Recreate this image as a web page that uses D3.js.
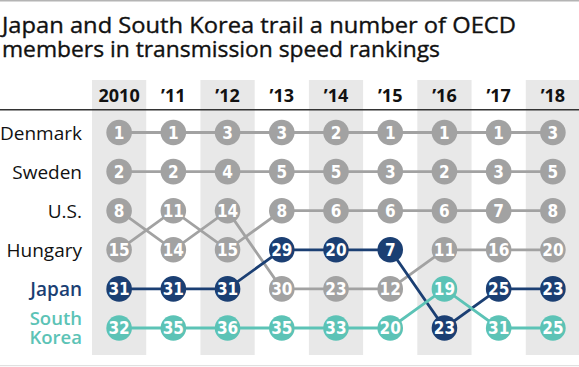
<!DOCTYPE html>
<html>
<head>
<meta charset="utf-8">
<script src="https://cdn.jsdelivr.net/npm/d3@7"></script>
<style>
  body { margin: 0; background: #fff; }
  svg { display: block; }
</style>
</head>
<body>
<div id="chart"></div>
<script>
// ---- data (ranks as the lines are drawn in the source chart) ----
var years = ["2010", "2011", "2012", "2013", "2014", "2015", "2016", "2017", "2018"];
var yearLabels = ["2010", "\u201911", "\u201912", "\u201913", "\u201914", "\u201915", "\u201916", "\u201917", "\u201918"];
var countries = ["Denmark", "Sweden", "U.S.", "Hungary", "Japan", "South Korea"];
var denmark = [1, 1, 3, 3, 2, 1, 1, 1, 3];
var sweden = [2, 2, 4, 5, 5, 3, 2, 3, 5];
var us = [8, 14, 14, 30, 23, 12, 11, 16, 20];
var hungary = [15, 11, 15, 8, 6, 6, 6, 7, 8];
var japan = [31, 31, 31, 29, 20, 7, 23, 25, 23];
var korea = [32, 35, 36, 35, 33, 20, 19, 31, 25];

var ranks = [denmark, sweden, us, hungary, japan, korea];
var colors = ["#a2a2a2", "#a2a2a2", "#a2a2a2", "#a2a2a2", "#1b3f73", "#5cc3b6"];

// slot = position of the country among the six in that year
var series = countries.map(function(c, i) {
  return { name: c, color: colors[i], idx: i, pts: years.map(function(y, j) {
    var r = ranks[i][j];
    var slot = ranks.filter(function(a) { return a[j] < r; }).length;
    return { year: y, rank: r, slot: slot };
  })};
});

var w = 579, h = 367;
var font = "'Open Sans', Lato, sans-serif";
var svg = d3.select("#chart").append("svg").attr("width", w).attr("height", h);

// top rule + bottom rule
svg.append("rect").attr("x", 0).attr("y", 0).attr("width", w).attr("height", 1.5).attr("fill", "#b4b4b4");
svg.append("rect").attr("x", 0).attr("y", 365).attr("width", w).attr("height", 1.2).attr("fill", "#e0e0e0");

// title
var title = svg.append("text").attr("font-family", font)
  .attr("font-size", 21.5).attr("fill", "#111")
  .attr("stroke", "#111").attr("stroke-width", 0.35);
title.append("tspan").attr("x", 2).attr("y", 33)
  .attr("textLength", 514).attr("lengthAdjust", "spacingAndGlyphs")
  .text("Japan and South Korea trail a number of OECD");
title.append("tspan").attr("x", 2).attr("y", 57)
  .attr("textLength", 438).attr("lengthAdjust", "spacingAndGlyphs")
  .text("members in transmission speed rankings");

var x = d3.scaleBand().domain(years).range([92, 580]).padding(0);
var cx = function(y) { return x(y) + x.bandwidth() / 2; };
var y = d3.scalePoint().domain(d3.range(6)).range([132.5, 328]);

// shaded columns
svg.selectAll("rect.band").data(years.filter(function(d, i) { return i % 2 == 0; }))
  .enter().append("rect").attr("class", "band")
  .attr("x", function(d) { return x(d); })
  .attr("y", 80)
  .attr("width", x.bandwidth())
  .attr("height", 275)
  .attr("fill", "#e8e8e8");

// year header
svg.selectAll("text.yr").data(years).enter().append("text")
  .attr("class", "yr")
  .attr("x", function(d) { return cx(d); })
  .attr("y", 102)
  .attr("text-anchor", "middle")
  .attr("font-family", font)
  .attr("font-weight", "bold")
  .attr("font-size", 18)
  .attr("fill", "#111")
  .text(function(d, i) { return yearLabels[i]; });

svg.append("rect").attr("x", 0).attr("y", 109).attr("width", w).attr("height", 1.5).attr("fill", "#333");

// row labels
series.forEach(function(d) {
  var yy = y(d.pts[0].slot);
  var lines = d.name == "South Korea" ? [["South", yy - 3], ["Korea", yy + 16]] : [[d.name, yy + 7]];
  lines.forEach(function(l) {
    svg.append("text")
      .attr("x", 82).attr("y", l[1])
      .attr("text-anchor", "end")
      .attr("font-family", font)
      .attr("font-size", d.idx == 5 ? 18.5 : 19)
      .attr("font-weight", d.idx >= 4 ? 600 : "normal")
      .attr("fill", d.idx >= 4 ? d.color : "#111")
      .text(l[0]);
  });
});

// lines
var line = d3.line().x(function(d) { return cx(d.year); }).y(function(d) { return y(d.slot); });
svg.selectAll("path.ln").data(series).enter().append("path")
  .attr("class", "ln")
  .attr("d", function(d) { return line(d.pts); })
  .attr("fill", "none")
  .attr("stroke", function(d) { return d.color; })
  .attr("stroke-width", 2.8);

// dots
var g = svg.selectAll("g.s").data(series).enter().append("g").attr("class", "s");
var dot = g.selectAll("g.d").data(function(d) { return d.pts.map(function(p) { p.color = d.color; return p; }); })
  .enter().append("g").attr("class", "d")
  .attr("transform", function(d) { return "translate(" + cx(d.year) + "," + y(d.slot) + ")"; });
dot.append("circle").attr("r", 12.8).attr("fill", function(d) { return d.color; });
dot.append("text")
  .attr("text-anchor", "middle")
  .attr("y", 6)
  .attr("font-family", "'Liberation Sans Narrow', 'DejaVu Sans Condensed', Roboto, sans-serif")
  .attr("font-size", 17)
  .attr("font-weight", "bold")
  .attr("fill", "#fff")
  .text(function(d) { return d.rank; });
</script>
</body>
</html>
